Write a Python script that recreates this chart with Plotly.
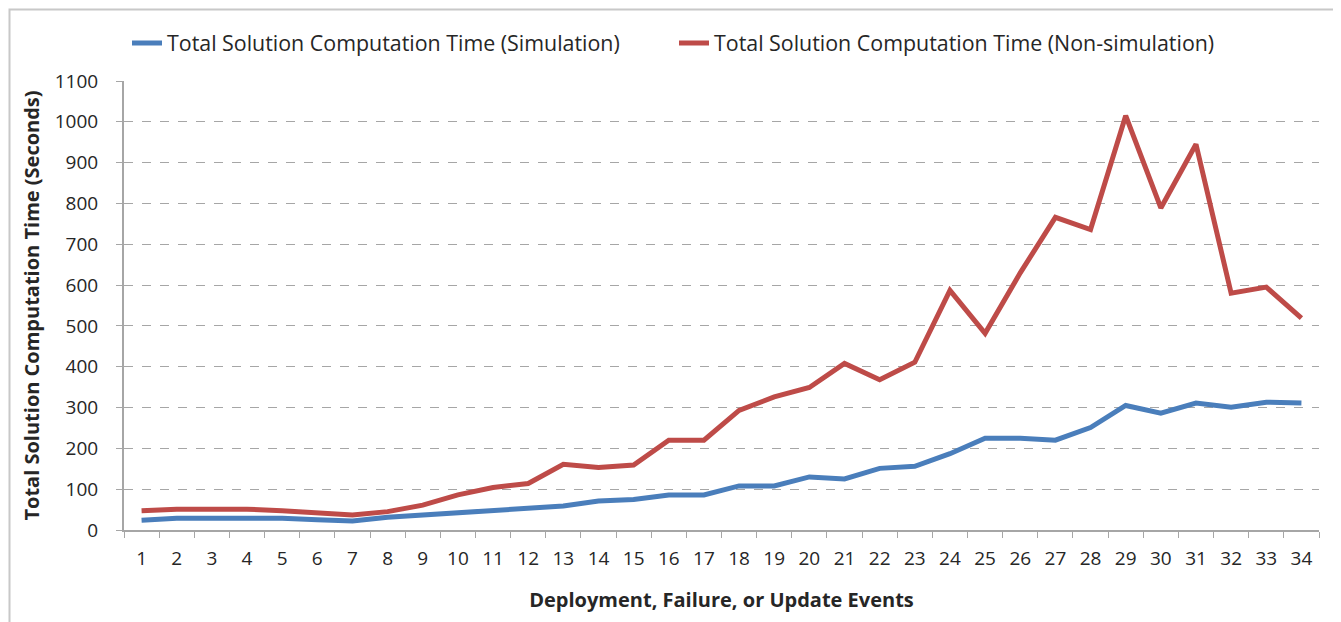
import plotly.graph_objects as go

events = [str(i) for i in range(1, 35)]
simulation = [24, 29, 29, 29, 29, 25, 22, 31, 37, 42, 47, 54, 59, 71, 75, 86, 86, 108, 108, 130,
              125, 151, 156, 187, 225, 225, 220, 251, 305, 286, 311, 301, 313, 311]
non_simulation = [47, 51, 51, 51, 47, 43, 37, 45, 61, 86, 104, 114, 161, 153, 159, 220, 220, 293, 326, 349,
                  408, 368, 411, 587, 482, 630, 766, 736, 1015, 789, 945, 580, 595, 519]
y_ticks = list(range(0, 1101, 100))

FONT = "Open Sans"
OFF = 8  # default page body margin

fig = go.Figure()
fig.add_trace(go.Scatter(x=events, y=simulation, mode="lines",
                         name="Total Solution Computation Time (Simulation)",
                         line=dict(color="#4a7ebb", width=5)))
fig.add_trace(go.Scatter(x=events, y=non_simulation, mode="lines",
                         name="Total Solution Computation Time (Non-simulation)",
                         line=dict(color="#be4b48", width=5)))

W, H = 1341 - OFF, 622 - OFF
L, T = 124 - OFF, 81 - OFF
R = W - (1319 - OFF)
B = H - (530 - OFF)
pw, ph = W - L - R, H - T - B

def px_x(p):
    return (p - OFF - L) / pw

def px_y(p):
    return (H - B - (p - OFF)) / ph

fig.add_shape(type="rect", xref="paper", yref="paper",
              x0=px_x(OFF + 1.5), x1=px_x(1337), y0=px_y(OFF + 1.5), y1=px_y(650),
              line=dict(color="#c8c8c8", width=2), fillcolor="rgba(0,0,0,0)", layer="below")

fig.update_layout(
    width=W, height=H,
    margin=dict(l=L, r=R, t=T, b=B, autoexpand=False),
    paper_bgcolor="white", plot_bgcolor="white",
    font=dict(family=FONT, color="#262626", size=19),
    showlegend=True,
    legend=dict(orientation="h", x=px_x(127), y=px_y(43), xanchor="left", yanchor="middle",
                xref="paper", yref="paper",
                entrywidth=502, entrywidthmode="pixels",
                font=dict(family=FONT, size=21.4, color="#262626"),
                itemwidth=30, bgcolor="rgba(0,0,0,0)"),
    xaxis=dict(type="category", tickson="boundaries", ticks="outside", ticklen=6,
               tickcolor="#a6a6a6", showline=True, linecolor="#a6a6a6", linewidth=2,
               showgrid=False, tickfont=dict(size=19, family=FONT), ticklabelstandoff=10,
               title=dict(text="<b>Deployment, Failure, or Update Events</b>",
                          font=dict(size=20, family=FONT), standoff=23),
               range=[-0.5, 33.5]),
    yaxis=dict(range=[0, 1100], tickvals=y_ticks, ticks="outside", ticklen=6,
               tickcolor="#a6a6a6", showline=True, linecolor="#a6a6a6", linewidth=2,
               showgrid=True, gridcolor="#a6a6a6", griddash="dash", gridwidth=1,
               zeroline=False, tickfont=dict(size=19, family=FONT), ticklabelstandoff=14,
               title=dict(text="<b>Total Solution Computation Time (Seconds)</b>",
                          font=dict(size=20, family=FONT), standoff=10)),
)

fig.write_html("out.html")
